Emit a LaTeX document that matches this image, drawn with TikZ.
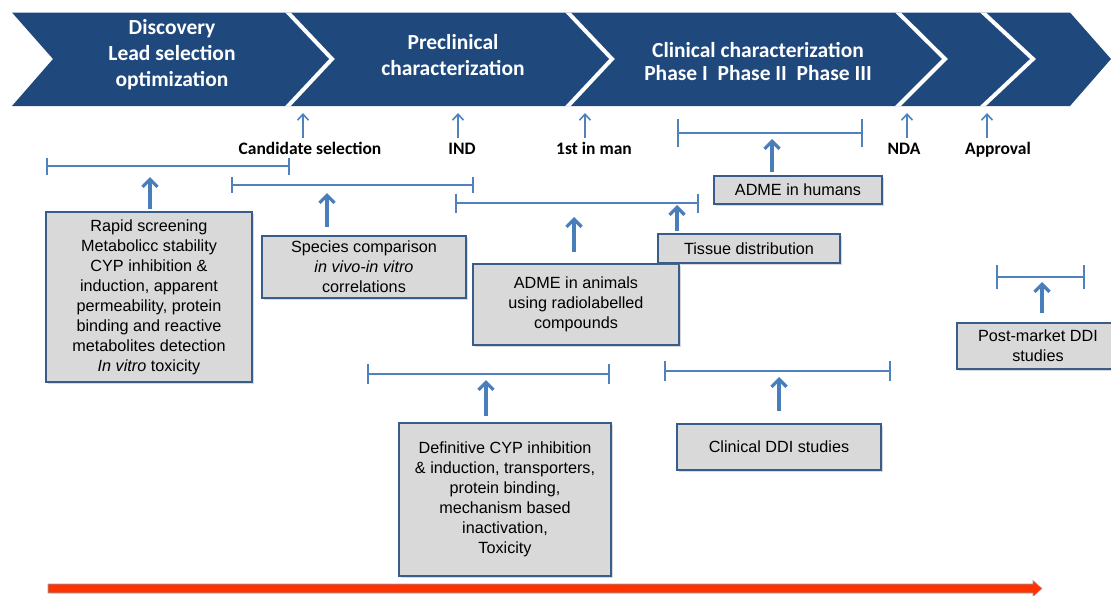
\documentclass[tikz,border=0pt]{standalone}
\usepackage{fontspec}
\setmainfont{Liberation Sans}
\newfontfamily\carl{Carlito}
\usetikzlibrary{arrows.meta,shadows,calc}
\definecolor{chev}{HTML}{1F497D}
\definecolor{lblue}{HTML}{4F81BD}
\definecolor{dblue}{HTML}{4A7EBB}
\definecolor{boxfill}{HTML}{D9D9D9}
\definecolor{boxline}{HTML}{385D8A}
\definecolor{redarr}{HTML}{FF3300}
\definecolor{redline}{HTML}{8EA4C0}
\begin{document}
\begin{tikzpicture}[x=1pt,y=-1pt,
 chevtext/.style={text=white,font=\carl\bfseries\fontsize{21.5}{26}\selectfont,align=center,inner sep=0pt},
 mile/.style={font=\carl\bfseries\fontsize{17.5}{20}\selectfont,inner sep=0pt,anchor=base},
 infobox/.style={draw=boxline,line width=1.5pt,fill=boxfill,align=center,inner sep=0pt,
   font=\fontsize{16.2}{20}\selectfont,
   drop shadow={opacity=0.3,shadow xshift=2pt,shadow yshift=-2pt}},
 span/.style={draw=lblue,line width=1.4pt},
 milearrow/.style={draw=lblue,line width=1.6pt,-{Straight Barb[length=6pt,width=11pt]}},
 bigarrow/.style={draw=dblue,line width=3.2pt,-{Straight Barb[length=7.5pt,width=15pt]}},
]
\useasboundingbox (0,0) rectangle (1111,595);
\clip (0,0) rectangle (1111,595);

% chevron band
\path[fill=chev] (12,12.5) -- (1070,12.5) -- (1111,59) -- (1070,106) -- (12,106) -- (53,59) -- cycle;
\begin{scope}
\clip (12,12.5) -- (1070,12.5) -- (1111,59) -- (1070,106) -- (12,106) -- (53,59) -- cycle;
\foreach \a/\b in {288/332, 568/612, 898/945, 983/1033}
  \draw[white,line width=4pt] ($(\a,12.5)!-0.15!(\b,59)$) -- (\b,59) -- ($(\a,106)!-0.15!(\b,59)$);
\end{scope}

\node[chevtext] (ph1) at (172,55) {Discovery\\Lead selection\\optimization};
\node[chevtext] (ph2) at (453,55) {Preclinical\\characterization};
\node[chevtext] (ph3) at (758,61.5) {Clinical characterization\\[-3pt]Phase I\ \ Phase II\ \ Phase III};

% milestones
\node[mile] (l1) at (310,154) {Candidate selection};
\node[mile] (l2) at (462,154) {IND};
\node[mile] (l3) at (594,154) {1st in man};
\node[mile] (l4) at (904,154) {NDA};
\node[mile] (l5) at (998,154) {Approval};
\coordinate (m1) at (303,113);
\coordinate (m2) at (458,113);
\coordinate (m3) at (585,113);
\coordinate (m4) at (907,113);
\coordinate (m5) at (987,113);
\foreach \i in {1,...,5}
  \draw[milearrow,shorten <=4pt] (m\i |- l\i.north) -- (m\i);

% spans
\coordinate (s1l) at (47,166);  \coordinate (s1r) at (289,166);
\coordinate (s2l) at (232,185); \coordinate (s2r) at (473,185);
\coordinate (s3l) at (456,203); \coordinate (s3r) at (698,203);
\coordinate (s4l) at (678,133); \coordinate (s4r) at (862,133);
\coordinate (s5l) at (368,374); \coordinate (s5r) at (609,374);
\coordinate (s6l) at (665,371); \coordinate (s6r) at (890,371);
\coordinate (s7l) at (997,277); \coordinate (s7r) at (1084,277);
\foreach \i/\h in {1/8.5,2/8,3/9.5,4/14,5/10,6/10,7/12}{
  \draw[span] (s\i l) -- (s\i r);
  \draw[span] ($(s\i l)+(0,-\h)$) -- ($(s\i l)+(0,\h)$);
  \draw[span] ($(s\i r)+(0,-\h)$) -- ($(s\i r)+(0,\h)$);
}

% boxes
\node[infobox,minimum width=206pt,minimum height=170pt] (b1) at (149,297)
 {Rapid screening\\Metabolicc stability\\CYP inhibition \&\\induction, apparent\\permeability, protein\\binding and reactive\\metabolites detection\\\textit{In vitro} toxicity};
\node[infobox,minimum width=204pt,minimum height=62pt] (b2) at (364,267)
 {Species comparison\\\textit{in vivo-in vitro}\\correlations};
\node[infobox,minimum width=206pt,minimum height=81pt] (b3) at (576,304.5)
 {ADME in animals\\using radiolabelled\\compounds};
\node[infobox,minimum width=182pt,minimum height=29pt] (b4) at (749,248.5)
 {Tissue distribution};
\node[infobox,minimum width=168pt,minimum height=28pt] (b5) at (798,190)
 {ADME in humans};
\node[infobox,minimum width=212pt,minimum height=153pt] (b6) at (505,499.5)
 {Definitive CYP inhibition\\\& induction, transporters,\\protein binding,\\mechanism based\\inactivation,\\Toxicity};
\node[infobox,minimum width=204pt,minimum height=46pt] (b7) at (779,447)
 {Clinical DDI studies};
\node[infobox,minimum width=162pt,minimum height=46pt] (b8) at (1038,346)
 {Post-market DDI\\studies};

% thick arrows
\coordinate (t1) at (150,177);
\coordinate (t2) at (327,193);
\coordinate (t3) at (574,217);
\coordinate (t4) at (677,205);
\coordinate (t5) at (772,139);
\coordinate (t6) at (486,380);
\coordinate (t7) at (779,377);
\coordinate (t8) at (1042,282);
\draw[bigarrow,shorten <=2pt] (t1 |- b1.north) -- (t1);
\draw[bigarrow,shorten <=8pt] (t2 |- b2.north) -- (t2);
\draw[bigarrow,shorten <=11pt] (t3 |- b3.north) -- (t3);
\draw[bigarrow,shorten <=2pt] (t4 |- b4.north) -- (t4);
\draw[bigarrow,shorten <=3pt] (t5 |- b5.north) -- (t5);
\draw[bigarrow,shorten <=6pt] (t6 |- b6.north) -- (t6);
\draw[bigarrow,shorten <=12pt] (t7 |- b7.north) -- (t7);
\draw[bigarrow,shorten <=9pt] (t8 |- b8.north) -- (t8);

% timeline arrow
\path[fill=redarr,draw=redline,line width=0.6pt]
 (48,584) -- (1033,584) -- (1033,580.5) -- (1042,588.5) -- (1033,596.5) -- (1033,593) -- (48,593) -- cycle;
\end{tikzpicture}
\end{document}
